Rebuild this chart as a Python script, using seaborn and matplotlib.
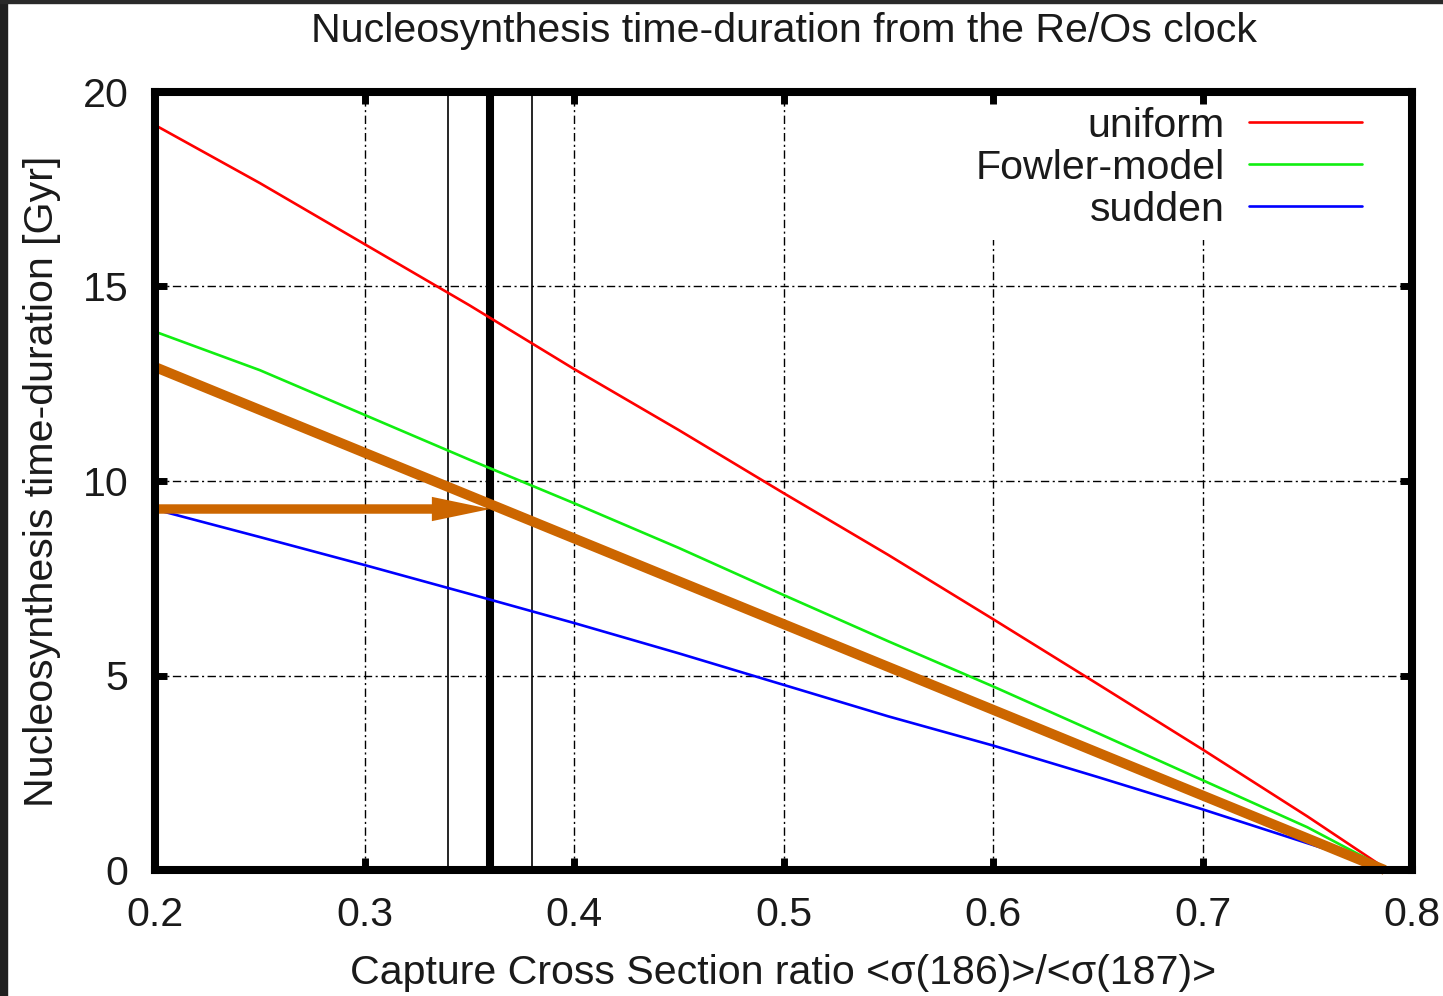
import numpy as np
import pandas as pd
import matplotlib
matplotlib.use("Agg")
import matplotlib.pyplot as plt
from matplotlib.patches import Rectangle
import seaborn as sns

# ---- data ----
ratio = [0.20, 0.25, 0.30, 0.35, 0.40, 0.45, 0.50, 0.55, 0.60, 0.65, 0.70, 0.75, 0.787]
uniform = [19.15, 17.66, 16.09, 14.52, 12.88, 11.31, 9.69, 8.10, 6.45, 4.78, 3.10, 1.38, 0.05]
fowler = [13.84, 12.85, 11.70, 10.55, 9.43, 8.28, 7.07, 5.88, 4.72, 3.52, 2.31, 1.10, 0.05]
sudden = [9.27, 8.56, 7.84, 7.10, 6.35, 5.57, 4.76, 3.95, 3.20, 2.39, 1.56, 0.69, 0.05]
series_names = ["uniform", "Fowler-model", "sudden"]
series_colors = ["#ff0000", "#11ee11", "#0000ff"]

band_lo, band_mid, band_hi = 0.34, 0.36, 0.38
fit_x = [0.2, 0.787]
fit_y = [12.93, 0.0]
arrow_from = (0.2, 9.28)
arrow_to = (0.36, 9.28)

xticks = [0.2, 0.3, 0.4, 0.5, 0.6, 0.7, 0.8]
yticks = [0, 5, 10, 15, 20]

title = "Nucleosynthesis time-duration from the Re/Os clock"
xlabel = "Capture Cross Section ratio <σ(186)>/<σ(187)>"
ylabel = "Nucleosynthesis time-duration [Gyr]"

df = pd.DataFrame({
    "ratio": ratio * 3,
    "duration": uniform + fowler + sudden,
    "model": [series_names[0]] * len(ratio) + [series_names[1]] * len(ratio) + [series_names[2]] * len(ratio),
})

sns.set_style("white")
plt.rcParams["font.family"] = ["Liberation Sans", "DejaVu Sans"]
FS = 29.6
TXT = "#1a1a1a"

fig = plt.figure(figsize=(14.43, 9.96), dpi=100)
fig.patch.set_facecolor("white")
ax = fig.add_axes([155 / 1443, 1 - 870 / 996, 1257 / 1443, 778 / 996])

# dark border of the screenshot
fig.add_artist(Rectangle((0, 0), 7 / 1443, 1, transform=fig.transFigure, color="#202020", zorder=-5))
fig.add_artist(Rectangle((0, 1 - 3 / 996), 1, 3 / 996, transform=fig.transFigure, color="#2a2a2a", zorder=-5))

sns.lineplot(data=df, x="ratio", y="duration", hue="model", hue_order=series_names,
             palette=series_colors, linewidth=1.9, ax=ax, zorder=3, legend=True)

ax.set_xlim(0.2, 0.8)
ax.set_ylim(0, 20)
ax.set_xticks(xticks)
ax.set_yticks(yticks)
ax.set_xticklabels([f"{v:.1f}" for v in xticks])
ax.set_yticklabels([str(v) for v in yticks])

# dash-dot grid (drawn as lines so the legend box can hide it)
grid_ls = (0, (6, 2.5, 1.5, 2.5))
for xv in xticks[1:-1]:
    ax.axvline(xv, color="black", lw=1.0, linestyle=grid_ls, zorder=1)
for yv in yticks[1:-1]:
    ax.axhline(yv, color="black", lw=1.0, linestyle=grid_ls, zorder=1)

# vertical band lines
ax.axvline(band_lo, color="black", lw=1.2, zorder=2.2)
ax.axvline(band_hi, color="black", lw=1.2, zorder=2.2)
ax.axvline(band_mid, color="black", lw=5.8, zorder=2.2)

# orange fit line and arrow
ax.plot(fit_x, fit_y, color="#cc6600", lw=7.2, solid_capstyle="butt", zorder=6, clip_on=False)
ax.annotate("", xy=arrow_to, xytext=arrow_from,
            arrowprops=dict(color="#cc6600", width=6.8, headwidth=17.5, headlength=42, shrink=0.0, lw=0),
            zorder=6, annotation_clip=False)

ax.set_axisbelow(False)
for s in ax.spines.values():
    s.set_visible(True)
    s.set_color("black")
    s.set_linewidth(5.8)
    s.set_zorder(8)

ax.tick_params(axis="both", which="major", direction="in", length=8.5, width=5,
               left=True, bottom=True, top=True, right=True,
               labelsize=FS, labelcolor=TXT, pad=19, color="black")

ax.set_xlabel(xlabel, fontsize=FS, color=TXT)
ax.set_ylabel(ylabel, fontsize=FS, color=TXT)
ax.xaxis.set_label_coords(0.5, -0.108)
ax.yaxis.set_label_coords(-0.075, 0.5)
ax.set_title(title, fontsize=FS, color=TXT, pad=36)

handles, labels = ax.get_legend_handles_labels()
leg = ax.legend(handles, labels, loc="upper right", bbox_to_anchor=(0.9695, 0.996),
                borderaxespad=0, markerfirst=False, fontsize=FS, frameon=True,
                facecolor="white", edgecolor="none", framealpha=1.0, fancybox=False,
                handlelength=2.75, handletextpad=0.6, labelspacing=0.1, borderpad=0.28)
leg.set_zorder(2)
for t in leg.get_texts():
    t.set_color(TXT)
for l in leg.get_lines():
    l.set_linewidth(1.9)

fig.savefig("out.png", dpi=100, facecolor=fig.get_facecolor())
